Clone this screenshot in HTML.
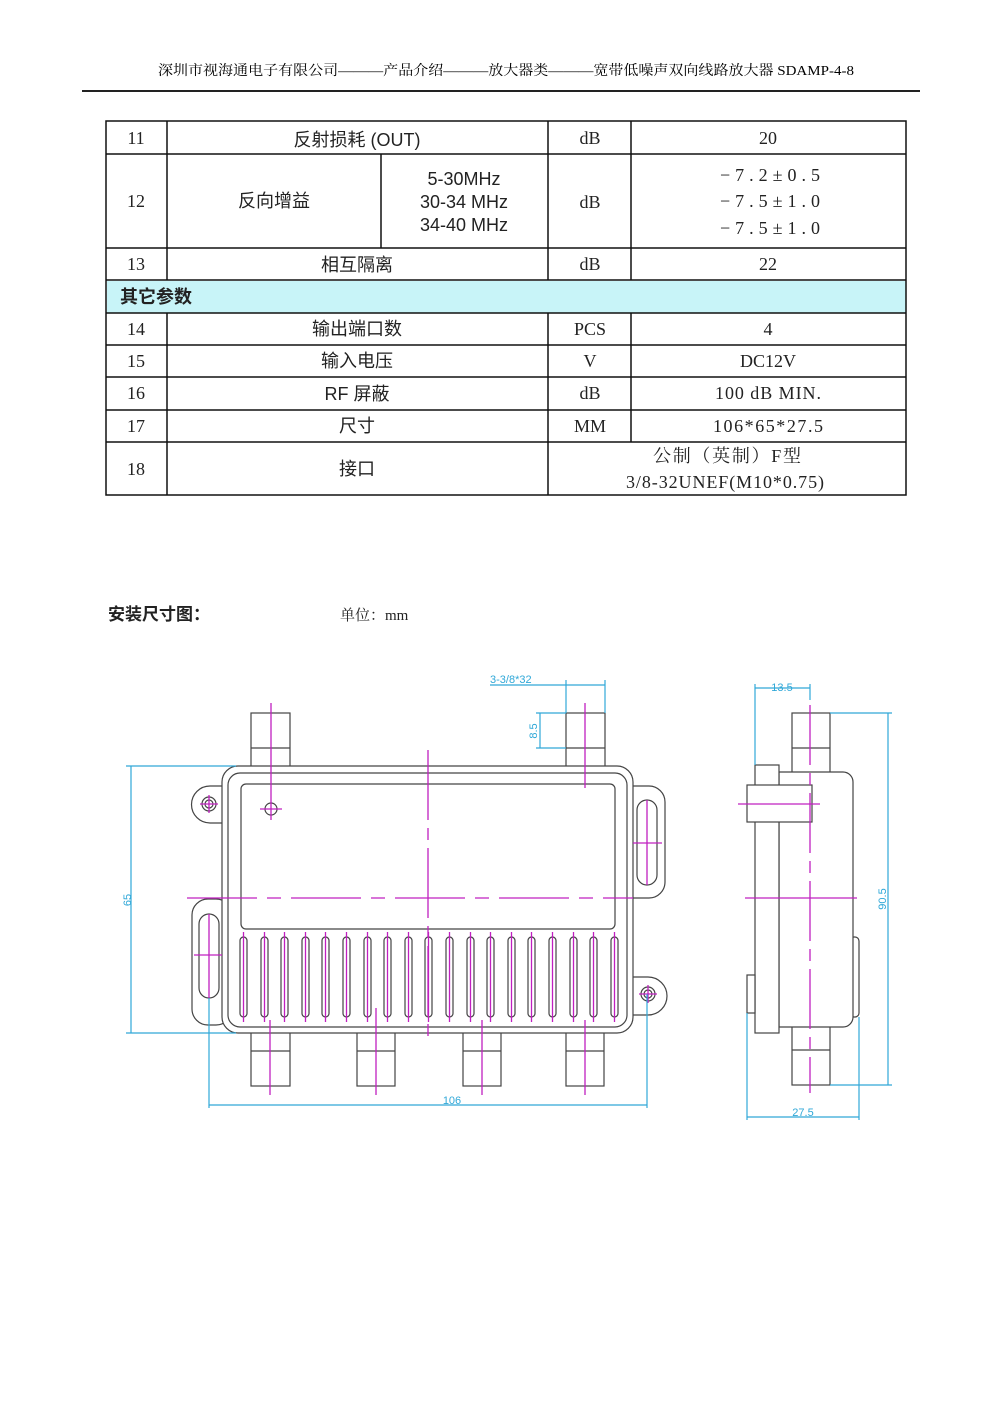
<!DOCTYPE html>
<html><head><meta charset="utf-8"><style>
body{margin:0;background:#fff}
svg{display:block}
.s{font-family:"Liberation Serif","Noto Serif CJK SC",serif}
.c{font-family:"Liberation Sans","Noto Sans CJK SC",sans-serif}
</style></head><body>
<svg width="1000" height="1414" viewBox="0 0 1000 1414" xmlns="http://www.w3.org/2000/svg">
<rect width="1000" height="1414" fill="#fff"/>
<text x="506" y="75" text-anchor="middle" font-size="14" class="s" textLength="696" lengthAdjust="spacingAndGlyphs">深圳市视海通电子有限公司———产品介绍———放大器类———宽带低噪声双向线路放大器 SDAMP-4-8</text>
<rect x="82" y="90" width="838" height="2" fill="#222"/>

<!-- table -->
<rect x="107" y="281" width="799" height="32" fill="#c8f4f8"/>
<g stroke="#111" stroke-width="1.5" fill="none">
<rect x="106" y="121" width="800" height="374"/>
<line x1="106" y1="154" x2="906" y2="154"/><line x1="106" y1="248" x2="906" y2="248"/>
<line x1="106" y1="280" x2="906" y2="280"/><line x1="106" y1="313" x2="906" y2="313"/>
<line x1="106" y1="345" x2="906" y2="345"/><line x1="106" y1="377" x2="906" y2="377"/>
<line x1="106" y1="410" x2="906" y2="410"/><line x1="106" y1="442" x2="906" y2="442"/>
<line x1="167" y1="121" x2="167" y2="280"/><line x1="167" y1="313" x2="167" y2="495"/>
<line x1="548" y1="121" x2="548" y2="280"/><line x1="548" y1="313" x2="548" y2="495"/>
<line x1="631" y1="121" x2="631" y2="280"/><line x1="631" y1="313" x2="631" y2="442"/>
<line x1="381" y1="154" x2="381" y2="248"/>
</g>
<g font-size="18" text-anchor="middle" class="s" fill="#222">
<text x="136" y="144">11</text><text x="136" y="207">12</text><text x="136" y="270">13</text>
<text x="136" y="335">14</text><text x="136" y="367">15</text><text x="136" y="399">16</text><text x="136" y="432">17</text><text x="136" y="475">18</text>
<text x="590" y="144">dB</text><text x="590" y="208">dB</text><text x="590" y="270">dB</text>
<text x="590" y="335">PCS</text><text x="590" y="367">V</text><text x="590" y="399">dB</text><text x="590" y="432">MM</text>
<text x="768" y="144">20</text>
<text x="770" y="181" textLength="100" lengthAdjust="spacing">−7.2±0.5</text><text x="770" y="207" textLength="100" lengthAdjust="spacing">−7.5±1.0</text><text x="770" y="234" textLength="100" lengthAdjust="spacing">−7.5±1.0</text>
<text x="768" y="270">22</text><text x="768" y="335">4</text><text x="768" y="367">DC12V</text>
<text x="768" y="399" textLength="106" lengthAdjust="spacing">100 dB MIN.</text><text x="768" y="432" textLength="110" lengthAdjust="spacing">106*65*27.5</text>
<text x="727" y="462" textLength="148" lengthAdjust="spacing">公制（英制）F型</text><text x="725" y="488" textLength="198" lengthAdjust="spacing">3/8-32UNEF(M10*0.75)</text>
</g>
<g font-size="18" text-anchor="middle" class="c" fill="#222">
<text x="357" y="146">反射损耗 (OUT)</text>
<text x="274" y="207">反向增益</text>
<text x="464" y="185">5-30MHz</text><text x="464" y="208">30-34 MHz</text><text x="464" y="231">34-40 MHz</text>
<text x="357" y="271">相互隔离</text>
<text x="357" y="335">输出端口数</text><text x="357" y="367">输入电压</text>
<text x="357" y="400">RF 屏蔽</text><text x="357" y="432">尺寸</text><text x="357" y="475">接口</text>
<text x="156" y="303" font-weight="bold">其它参数</text>
</g>
<text x="108" y="620" font-size="17" font-weight="bold" class="c" fill="#222">安装尺寸图：</text>
<text x="340" y="620" font-size="15" class="s" fill="#222">单位：mm</text>

<!-- front view -->
<g stroke="#444" stroke-width="1.2" fill="#fff">
<rect x="251" y="713" width="39" height="58"/><line x1="251" y1="748" x2="290" y2="748"/>
<rect x="566" y="713" width="39" height="58"/><line x1="566" y1="748" x2="605" y2="748"/>
<rect x="251" y="1030" width="39" height="56"/><line x1="251" y1="1051" x2="290" y2="1051"/>
<rect x="357" y="1030" width="38" height="56"/><line x1="357" y1="1051" x2="395" y2="1051"/>
<rect x="463" y="1030" width="38" height="56"/><line x1="463" y1="1051" x2="501" y2="1051"/>
<rect x="566" y="1030" width="38" height="56"/><line x1="566" y1="1051" x2="604" y2="1051"/>
<path d="M210,786 H230 V823 H210 A18.5,18.5 0 0 1 210,786 Z"/>
<rect x="192" y="899" width="40" height="126" rx="16"/>
<rect x="610" y="786" width="55" height="112" rx="16"/>
<path d="M630,977 H648 A19,19 0 0 1 648,1015 H630 Z"/>
<rect x="222" y="766" width="411" height="267" rx="16"/>
<rect x="228" y="773" width="399" height="254" rx="12"/>
<rect x="241" y="784" width="374" height="145" rx="5"/>
<rect x="199" y="914" width="20" height="84" rx="10"/>
<rect x="637" y="800" width="20" height="85" rx="10"/>
<circle cx="209" cy="804" r="7"/><circle cx="209" cy="804" r="4"/>
<circle cx="648" cy="994" r="7"/><circle cx="648" cy="994" r="4"/>
<circle cx="271" cy="809" r="6"/>
</g>
<g stroke="#444" stroke-width="1.2" fill="#fff">
<rect x="240" y="937" width="7" height="80" rx="3.5"/><rect x="261" y="937" width="7" height="80" rx="3.5"/>
<rect x="281" y="937" width="7" height="80" rx="3.5"/><rect x="302" y="937" width="7" height="80" rx="3.5"/>
<rect x="322" y="937" width="7" height="80" rx="3.5"/><rect x="343" y="937" width="7" height="80" rx="3.5"/>
<rect x="364" y="937" width="7" height="80" rx="3.5"/><rect x="384" y="937" width="7" height="80" rx="3.5"/>
<rect x="405" y="937" width="7" height="80" rx="3.5"/><rect x="425" y="937" width="7" height="80" rx="3.5"/>
<rect x="446" y="937" width="7" height="80" rx="3.5"/><rect x="467" y="937" width="7" height="80" rx="3.5"/>
<rect x="487" y="937" width="7" height="80" rx="3.5"/><rect x="508" y="937" width="7" height="80" rx="3.5"/>
<rect x="528" y="937" width="7" height="80" rx="3.5"/><rect x="549" y="937" width="7" height="80" rx="3.5"/>
<rect x="570" y="937" width="7" height="80" rx="3.5"/><rect x="590" y="937" width="7" height="80" rx="3.5"/>
<rect x="611" y="937" width="7" height="80" rx="3.5"/>
</g>
<g stroke="#c020c0" stroke-width="1.3" fill="none">
<line x1="243.5" y1="932" x2="243.5" y2="1022"/><line x1="264.5" y1="932" x2="264.5" y2="1022"/>
<line x1="284.5" y1="932" x2="284.5" y2="1022"/><line x1="305.5" y1="932" x2="305.5" y2="1022"/>
<line x1="325.5" y1="932" x2="325.5" y2="1022"/><line x1="346.5" y1="932" x2="346.5" y2="1022"/>
<line x1="367.5" y1="932" x2="367.5" y2="1022"/><line x1="387.5" y1="932" x2="387.5" y2="1022"/>
<line x1="408.5" y1="932" x2="408.5" y2="1022"/><line x1="428.5" y1="932" x2="428.5" y2="1022"/>
<line x1="449.5" y1="932" x2="449.5" y2="1022"/><line x1="470.5" y1="932" x2="470.5" y2="1022"/>
<line x1="490.5" y1="932" x2="490.5" y2="1022"/><line x1="511.5" y1="932" x2="511.5" y2="1022"/>
<line x1="531.5" y1="932" x2="531.5" y2="1022"/><line x1="552.5" y1="932" x2="552.5" y2="1022"/>
<line x1="573.5" y1="932" x2="573.5" y2="1022"/><line x1="593.5" y1="932" x2="593.5" y2="1022"/>
<line x1="614.5" y1="932" x2="614.5" y2="1022"/>
<line x1="428" y1="750" x2="428" y2="1042" stroke-dasharray="70,8,12,8"/>
<line x1="187" y1="898" x2="633" y2="898" stroke-dasharray="70,10,14,10"/>
<line x1="271" y1="703" x2="271" y2="820"/><line x1="260" y1="809" x2="282" y2="809"/>
<line x1="585" y1="703" x2="585" y2="788"/>
<line x1="270" y1="1020" x2="270" y2="1095"/><line x1="376" y1="1008" x2="376" y2="1095"/>
<line x1="482" y1="1020" x2="482" y2="1095"/><line x1="585" y1="1020" x2="585" y2="1095"/>
<line x1="209" y1="914" x2="209" y2="998"/><line x1="194" y1="955" x2="222" y2="955"/>
<line x1="647" y1="800" x2="647" y2="885"/><line x1="633" y1="843" x2="662" y2="843"/>
<line x1="200" y1="804" x2="218" y2="804"/><line x1="209" y1="795" x2="209" y2="813"/>
<line x1="639" y1="994" x2="657" y2="994"/><line x1="648" y1="985" x2="648" y2="1003"/>
</g>
<g stroke="#30a8d8" stroke-width="1.2" fill="none">
<line x1="131" y1="766" x2="131" y2="1033"/><line x1="126" y1="766" x2="236" y2="766"/><line x1="126" y1="1033" x2="236" y2="1033"/>
<line x1="209" y1="998" x2="209" y2="1108"/><line x1="647" y1="994" x2="647" y2="1108"/><line x1="209" y1="1105" x2="647" y2="1105"/>
<line x1="490" y1="685" x2="605" y2="685"/><line x1="566" y1="680" x2="566" y2="713"/><line x1="605" y1="680" x2="605" y2="713"/>
<line x1="536" y1="713" x2="566" y2="713"/><line x1="536" y1="748" x2="566" y2="748"/><line x1="540" y1="713" x2="540" y2="748"/>
</g>
<g fill="#30a8d8" font-family="Liberation Sans,sans-serif" font-size="11">
<text x="490" y="683">3-3/8*32</text>
<text x="452" y="1104" text-anchor="middle">106</text>
<text transform="translate(131,900) rotate(-90)" text-anchor="middle">65</text>
<text transform="translate(537,731) rotate(-90)" text-anchor="middle">8.5</text>
</g>

<!-- side view -->
<g stroke="#444" stroke-width="1.2" fill="#fff">
<rect x="792" y="713" width="38" height="60"/><line x1="792" y1="748" x2="830" y2="748"/>
<rect x="792" y="1025" width="38" height="60"/><line x1="792" y1="1050" x2="830" y2="1050"/>
<rect x="850" y="937" width="9" height="80" rx="4"/>
<path d="M779,772 H843 A10,10 0 0 1 853,782 V1017 A10,10 0 0 1 843,1027 H779 Z"/>
<rect x="755" y="765" width="24" height="268"/>
<rect x="747" y="975" width="8" height="38"/>
<rect x="747" y="785" width="65" height="37"/>
</g>
<g stroke="#c020c0" stroke-width="1.3">
<line x1="810" y1="705" x2="810" y2="1093" stroke-dasharray="60,8,12,8"/>
<line x1="745" y1="898" x2="857" y2="898"/>
<line x1="738" y1="804" x2="820" y2="804"/>
</g>
<g stroke="#30a8d8" stroke-width="1.2">
<line x1="755" y1="688" x2="810" y2="688"/><line x1="755" y1="684" x2="755" y2="765"/><line x1="810" y1="684" x2="810" y2="700"/>
<line x1="888" y1="713" x2="888" y2="1085"/><line x1="830" y1="713" x2="892" y2="713"/><line x1="830" y1="1085" x2="892" y2="1085"/>
<line x1="747" y1="1117" x2="859" y2="1117"/><line x1="747" y1="1013" x2="747" y2="1120"/><line x1="859" y1="1017" x2="859" y2="1120"/>
</g>
<g fill="#30a8d8" font-family="Liberation Sans,sans-serif" font-size="11">
<text x="782" y="691" text-anchor="middle">13.5</text>
<text x="803" y="1116" text-anchor="middle">27.5</text>
<text transform="translate(886,899) rotate(-90)" text-anchor="middle">90.5</text>
</g>
</svg>
</body></html>
